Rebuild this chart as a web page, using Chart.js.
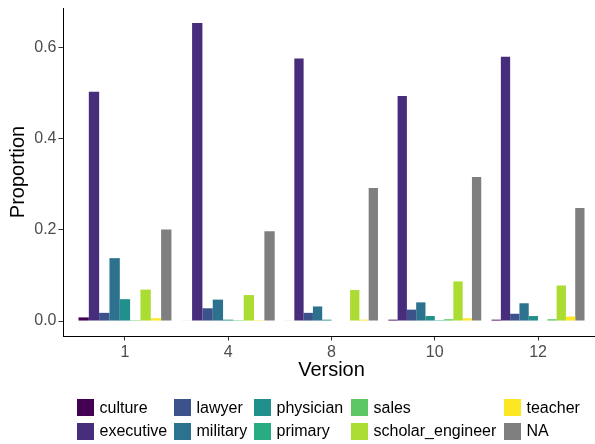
<!DOCTYPE html>
<html>
<head>
<meta charset="utf-8">
<script src="https://cdn.jsdelivr.net/npm/chart.js@4/dist/chart.umd.min.js"></script>
<style>
  html, body { margin: 0; padding: 0; background: #fff; overflow: hidden; width: 595px; height: 444px; }
  #wrap { position: relative; width: 610px; height: 444px; }
  #chart { position: absolute; left: 0; top: 0; }
  .key { position: absolute; width: 17px; height: 17px; }
  .lab { position: absolute; font-family: "Liberation Sans", Arial, sans-serif; font-size: 16px; color: #000; line-height: 18px; white-space: nowrap; }
</style>
</head>
<body>
<div id="wrap">
  <canvas id="chart" width="610" height="444"></canvas>
  <div id="legend"></div>
</div>
<script>
// ---- data ----
const versions = ['1', '4', '8', '10', '12'];
const occupations = ['culture', 'executive', 'lawyer', 'military', 'physician', 'primary', 'sales', 'scholar_engineer', 'teacher', 'NA'];
const culture          = [0.008, 0.001, 0.001, 0.003, 0.003];
const executive        = [0.503, 0.654, 0.576, 0.494, 0.580];
const lawyer           = [0.018, 0.028, 0.018, 0.025, 0.016];
const military         = [0.138, 0.047, 0.032, 0.041, 0.039];
const physician        = [0.048, 0.003, 0.003, 0.011, 0.011];
const primary          = [null, null, 0, 0.002, 0.001];
const sales            = [0.002, 0.002, 0, 0.004, 0.004];
const scholar_engineer = [0.069, 0.057, 0.068, 0.087, 0.078];
const teacher          = [0.006, 0.002, 0.003, 0.006, 0.010];
const NA               = [0.201, 0.197, 0.292, 0.316, 0.248];
const yTicks = [0, 0.2, 0.4, 0.6];
const colors = ['#440154', '#472D7B', '#3B528B', '#2C728E', '#21908C', '#27AD81', '#5DC863', '#AADC32', '#FDE725', '#7F7F7F'];

const seriesValues = [culture, executive, lawyer, military, physician, primary, sales, scholar_engineer, teacher, NA];

const datasets = occupations.map((name, k) => ({
  label: name,
  data: seriesValues[k].map((v, i) => ({ x: i + 1, y: v })),
  backgroundColor: colors[k],
  borderWidth: 0,
  categoryPercentage: 0.9,
  barPercentage: 1.0,
  skipNull: true
}));

const FONT = '"Liberation Sans", Arial, sans-serif';

new Chart(document.getElementById('chart'), {
  type: 'bar',
  data: { datasets },
  options: {
    responsive: false,
    animation: false,
    devicePixelRatio: 1,
    layout: { padding: { left: 0, right: 10, top: 8, bottom: 58 } },
    plugins: { legend: { display: false }, tooltip: { enabled: false } },
    scales: {
      x: {
        type: 'linear',
        min: 0.4,
        max: versions.length + 0.6,
        offset: false,
        afterBuildTicks: s => { s.ticks = versions.map((v, i) => ({ value: i + 1 })); },
        afterFit: s => { s.height = 50; s.paddingLeft = 0; s.paddingRight = 0; },
        ticks: {
          autoSkip: false,
          maxRotation: 0,
          padding: 2,
          color: '#4D4D4D',
          font: { family: FONT, size: 16 },
          callback: (v) => versions[Math.round(v) - 1]
        },
        grid: { display: true, offset: false, drawOnChartArea: false, drawTicks: true, tickLength: 4.5, color: '#333333', lineWidth: 1 },
        border: { display: true, color: '#000000', width: 1 },
        title: { display: true, text: 'Version', color: '#000', font: { family: FONT, size: 20 }, padding: { top: 4, bottom: 4 } }
      },
      y: {
        type: 'linear',
        min: -0.0328,
        max: 0.6868,
        afterBuildTicks: s => { s.ticks = yTicks.map(v => ({ value: v })); },
        afterFit: s => { s.width = 63; s.paddingTop = 0; s.paddingBottom = 0; },
        ticks: {
          autoSkip: false,
          padding: 2,
          color: '#4D4D4D',
          font: { family: FONT, size: 16 },
          callback: v => Number(v).toFixed(1)
        },
        grid: { display: true, offset: false, drawOnChartArea: false, drawTicks: true, tickLength: 4.5, color: '#333333', lineWidth: 1 },
        border: { display: true, color: '#000000', width: 1 },
        title: { display: true, text: 'Proportion', color: '#000', font: { family: FONT, size: 20 }, padding: { top: 6, bottom: 4 } }
      }
    }
  }
});

// ---- legend (column-wise, 2 rows) ----
const legendCols = [77, 174, 254, 351, 504];
const legendRows = [399, 422.5];
const legendEl = document.getElementById('legend');
occupations.forEach((name, k) => {
  const col = Math.floor(k / 2), row = k % 2;
  const key = document.createElement('div');
  key.className = 'key';
  key.style.left = legendCols[col] + 'px';
  key.style.top = legendRows[row] + 'px';
  key.style.background = colors[k];
  legendEl.appendChild(key);
  const lab = document.createElement('div');
  lab.className = 'lab';
  lab.textContent = name;
  lab.style.left = (legendCols[col] + 22.5) + 'px';
  lab.style.top = (legendRows[row] - 0.5) + 'px';
  legendEl.appendChild(lab);
});
</script>
</body>
</html>
